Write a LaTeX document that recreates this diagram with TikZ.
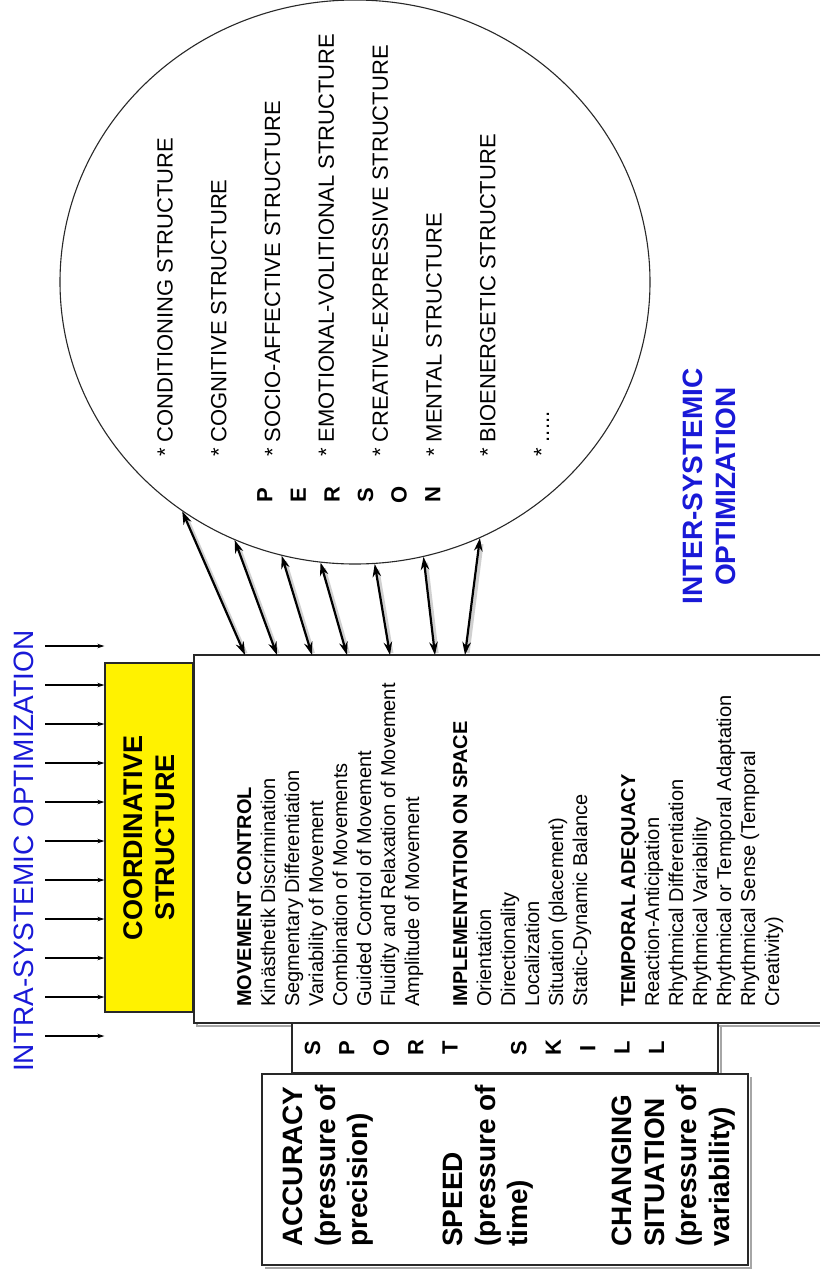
\documentclass[tikz,border=0pt]{standalone}
\usepackage{fontspec}
\setmainfont{Liberation Sans}
\usetikzlibrary{arrows.meta,shapes.geometric}
\definecolor{optblue}{RGB}{25,25,215}
\definecolor{edge}{RGB}{40,40,40}
\begin{document}
\begin{tikzpicture}[x=1pt,y=-1pt,
  frame/.style={draw=edge,line width=1.3pt},
  boxshadow/.style={draw=black!35,line width=1.6pt},
  vtext/.style={rotate=90,inner sep=0pt,align=left,anchor=north west},
  colletters/.style={rotate=90,inner sep=0pt,align=center,anchor=north},
  dbl/.style={{Stealth[length=13pt,width=8.5pt]}-{Stealth[length=13pt,width=8.5pt]},line width=2.2pt},
  dblshadow/.style={line width=3.2pt,draw=black!30,opacity=0.6,shorten <=4pt,shorten >=4pt},
  inarrow/.style={-{Stealth[length=7pt,width=4.5pt]},line width=1.1pt},
]
\useasboundingbox (0,0) rectangle (820,1270);
\fill[white] (0,0) rectangle (820,1270);

% PERSON ellipse
\node (person) [draw=edge,line width=1.1pt,ellipse,minimum width=590pt,minimum height=564pt,inner sep=0pt] at (355,282) {};
\node (structs) [vtext,font=\fontsize{22}{53.8}\selectfont] at (157,457)
  {* CONDITIONING STRUCTURE\\* COGNITIVE STRUCTURE\\* SOCIO-AFFECTIVE STRUCTURE\\* EMOTIONAL-VOLITIONAL STRUCTURE\\* CREATIVE-EXPRESSIVE STRUCTURE\\* MENTAL STRUCTURE\\* BIOENERGETIC STRUCTURE\\* .....};
\node (personletters) [colletters,font=\bfseries\fontsize{22}{33.6}\selectfont] at (257,495) {P\\E\\R\\S\\O\\N};

% box shadows
\draw[boxshadow] (820,658) -- (197,658) -- (197,1026) -- (820,1026);
\draw[boxshadow] (295,1076) -- (721,1076) -- (721,1026);
\draw[boxshadow] (265,1268) -- (751,1268) -- (751,1077);

% coordinative structure
\node (coord) [frame,fill=yellow,rotate=90,minimum width=349pt,minimum height=88pt,inner sep=0pt,align=center,
  font=\bfseries\fontsize{27}{32}\selectfont] at (149,837.5) {COORDINATIVE\\STRUCTURE};

% skills box
\fill[white] (194,655) rectangle (820,1023);
\draw[frame] (820,655) -- (194,655) -- (194,1023) -- (820,1023);
\node (skills) [vtext,font=\fontsize{20}{24}\selectfont] at (237,1007)
  {\textbf{MOVEMENT CONTROL}\\Kinästhetik Discrimination\\Segmentary Differentiation\\Variability of Movement\\Combination of Movements\\Guided Control of Movement\\Fluidity and Relaxation of Movement\\Amplitude of Movement\\[24pt]\textbf{IMPLEMENTATION ON SPACE}\\Orientation\\Directionality\\Localization\\Situation (placement)\\Static-Dynamic Balance\\[24pt]\textbf{TEMPORAL ADEQUACY}\\Reaction-Anticipation\\Rhythmical Differentiation\\Rhythmical Variability\\Rhythmical or Temporal Adaptation\\Rhythmical Sense (Temporal\\Creativity)};

% sport skill box
\node (sport) [frame,fill=white,minimum width=426pt,minimum height=50pt,inner sep=0pt] at (505,1048) {};
\node (sportletters) [colletters,font=\bfseries\fontsize{22}{34.4}\selectfont] at (304.5,1048) {S\\P\\O\\R\\T\\[34.4pt]S\\K\\I\\L\\L};

% pressure box
\node (press) [frame,fill=white,minimum width=486pt,minimum height=191pt,inner sep=0pt] at (505,1169.5) {};
\node (acc) [vtext,font=\bfseries\fontsize{28}{32.5}\selectfont] at (283,1247) {ACCURACY\\(pressure of\\precision)};
\node (spd) [vtext,font=\bfseries\fontsize{28}{32.5}\selectfont] at (443,1247) {SPEED\\(pressure of\\time)};
\node (chg) [vtext,font=\bfseries\fontsize{28}{32.5}\selectfont] at (612,1247) {CHANGING\\SITUATION\\(pressure of\\variability)};

% optimization labels
\node (intra) [rotate=90,anchor=west,inner sep=0pt,text=optblue,font=\fontsize{28}{32}\selectfont] at (24,1072) {INTRA-SYSTEMIC OPTIMIZATION};
\node (inter) [rotate=90,inner sep=0pt,align=center,text=optblue,font=\bfseries\fontsize{28}{33}\selectfont] at (709.5,486.5) {INTER-SYSTEMIC\\OPTIMIZATION};

% intra-systemic arrows
\foreach \i/\y in {1/646,2/685,3/724,4/763,5/802,6/841,7/880,8/919,9/958,10/997,11/1036}{
  \coordinate (s\i) at (45,\y);
  \draw[inarrow] (s\i) -- (s\i -| coord.north);
}

% inter-systemic double arrows
\foreach \i/\x/\a in {1/245/233.5,2/277/245.2,3/312/255.3,4/347/263.3,5/390/274.9,6/435/284.3,7/465/296.3}{
  \coordinate (b\i) at (\x,655);
  \draw[dblshadow,transform canvas={xshift=2.5pt,yshift=-2pt}] (b\i) -- (person.\a);
  \draw[dbl] (b\i) -- (person.\a);
}
\end{tikzpicture}
\end{document}
